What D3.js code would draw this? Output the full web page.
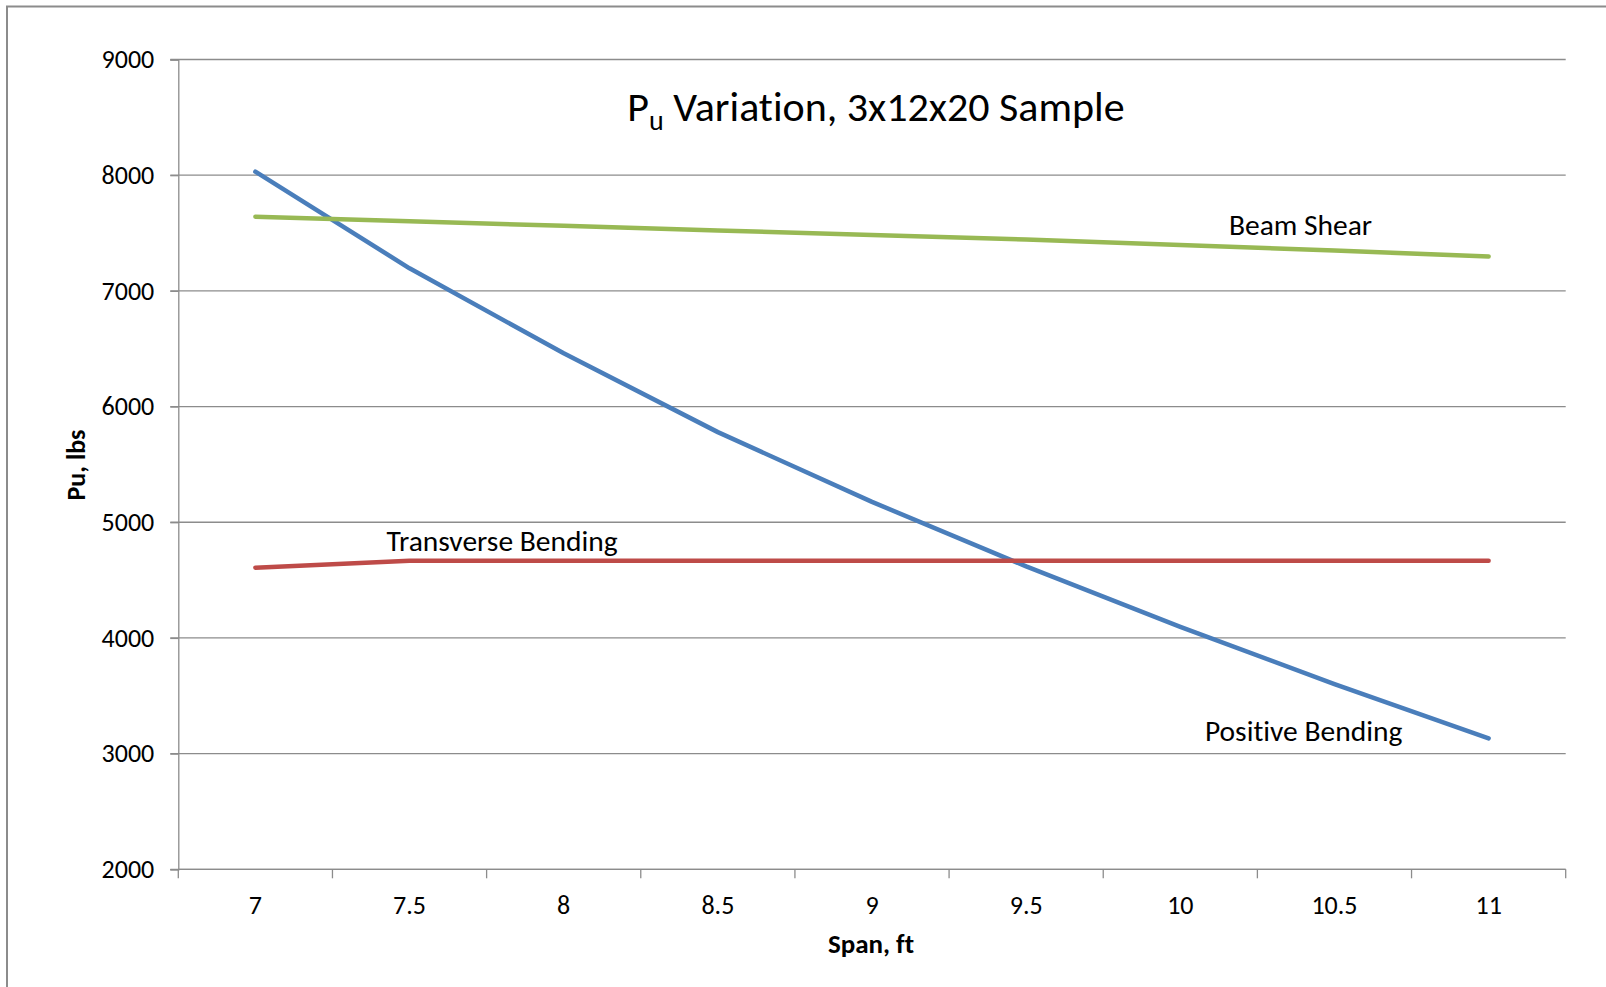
<!DOCTYPE html>
<html>
<head>
<meta charset="utf-8">
<script src="https://cdn.jsdelivr.net/npm/d3@7/dist/d3.min.js"></script>
<style>
  body { margin: 0; background: #fff; }
  text { font-family: Carlito, Calibri, Lato, sans-serif; fill: #000; font-variant-ligatures: none; }
</style>
</head>
<body>
<svg width="1606" height="987"></svg>
<script>
// data
let spans = ["7", "7.5", "8", "8.5", "9", "9.5", "10", "10.5", "11"];
let positiveBending = [8030, 7195, 6460, 5779, 5176, 4618, 4096, 3600, 3132];
let beamShear = [7641, 7601, 7562, 7522, 7484, 7444, 7396, 7348, 7298];
let transverseBending = [4607, 4667, 4667, 4667, 4667, 4667, 4667, 4667, 4667];
let yTicks = [2000, 3000, 4000, 5000, 6000, 7000, 8000, 9000];

let series = [
  {name: "Positive Bending", values: positiveBending, color: "#4a7ebb", label: [10.40, 3112]},
  {name: "Transverse Bending", values: transverseBending, color: "#be4b48", label: [7.80, 4752]},
  {name: "Beam Shear", values: beamShear, color: "#98b954", label: [10.39, 7483]}
];

let svg = d3.select("svg");
let plot = {left: 178.3, right: 1565.7, top: 59.5, bottom: 869.3};

// outer chart frame (only top and left edges are visible in the picture)
svg.append("path")
  .attr("d", "M7,990 L7,6.5 L1610,6.5")
  .attr("fill", "none")
  .attr("stroke", "#8c8c8c")
  .attr("stroke-width", 2);

let xScale = d3.scaleBand()
  .domain(spans)
  .range([plot.left, plot.right]);
// helper for placing annotations in span units
let xLin = d3.scaleLinear().domain([6.75, 11.25]).range([plot.left, plot.right]);
let yScale = d3.scaleLinear()
  .domain([2000, 9000])
  .range([plot.bottom, plot.top]);

// gridlines
svg.append("g")
  .selectAll("line")
  .data(yTicks)
  .enter()
  .append("line")
  .attr("x1", plot.left - 8)
  .attr("x2", plot.right)
  .attr("y1", d => yScale(d))
  .attr("y2", d => yScale(d))
  .attr("stroke", "#8c8c8c")
  .attr("stroke-width", 1.3);

// y axis
let yAxis = svg.append("g")
  .attr("transform", "translate(" + plot.left + ",0)")
  .call(d3.axisLeft(yScale).tickValues(yTicks).tickSize(8).tickPadding(16).tickFormat(d3.format("d")));
yAxis.select(".domain").attr("stroke", "#8c8c8c").attr("stroke-width", 1.3);
yAxis.selectAll(".tick line").attr("stroke", "#8c8c8c").attr("stroke-width", 1.3);
yAxis.selectAll("text")
  .style("font-size", "26px")
  .style("font-family", "Carlito, Calibri, Lato, sans-serif")
  .attr("fill", "#000");

// x axis, ticks between categories
let xAxis = svg.append("g")
  .attr("transform", "translate(0," + plot.bottom + ")")
  .call(d3.axisBottom(xScale).tickSize(0).tickPadding(26));
xAxis.select(".domain").remove();
svg.append("line")
  .attr("x1", plot.left).attr("x2", plot.right)
  .attr("y1", plot.bottom).attr("y2", plot.bottom)
  .attr("stroke", "#8c8c8c").attr("stroke-width", 1.3);
let bounds = spans.map(s => xScale(s)).concat([xScale(spans[spans.length - 1]) + xScale.bandwidth()]);
svg.append("g")
  .selectAll("line")
  .data(bounds)
  .enter()
  .append("line")
  .attr("x1", d => d).attr("x2", d => d)
  .attr("y1", plot.bottom).attr("y2", plot.bottom + 9)
  .attr("stroke", "#8c8c8c").attr("stroke-width", 1.3);
xAxis.selectAll("text")
  .style("font-size", "26px")
  .style("font-family", "Carlito, Calibri, Lato, sans-serif")
  .attr("fill", "#000");

// series lines
let line = d3.line()
  .x((d, i) => xScale(spans[i]) + xScale.bandwidth() / 2)
  .y(d => yScale(d));

series.forEach(s => {
  svg.append("path")
    .datum(s.values)
    .attr("fill", "none")
    .attr("stroke", s.color)
    .attr("stroke-width", 4.5)
    .attr("stroke-linejoin", "round")
    .attr("stroke-linecap", "round")
    .attr("d", line);

  svg.append("text")
    .attr("x", xLin(s.label[0]))
    .attr("y", yScale(s.label[1]))
    .attr("text-anchor", "middle")
    .style("font-size", "29.5px")
    .text(s.name);
});

// title with subscript
let title = svg.append("text")
  .attr("x", (plot.left + plot.right) / 2 + 4)
  .attr("y", 121)
  .attr("text-anchor", "middle")
  .style("font-size", "42px");
title.append("tspan").text("P");
title.append("tspan").attr("dy", 9).style("font-size", "28px").text("u");
title.append("tspan").attr("dy", -9).text(" Variation, 3x12x20 Sample");

// axis titles
svg.append("text")
  .attr("x", 871)
  .attr("y", 953)
  .attr("text-anchor", "middle")
  .style("font-size", "27px")
  .style("font-weight", "bold")
  .text("Span, ft");

svg.append("text")
  .attr("transform", "translate(85,465) rotate(-90)")
  .attr("text-anchor", "middle")
  .style("font-size", "26px")
  .style("font-weight", "bold")
  .text("Pu, lbs");
</script>
</body>
</html>
